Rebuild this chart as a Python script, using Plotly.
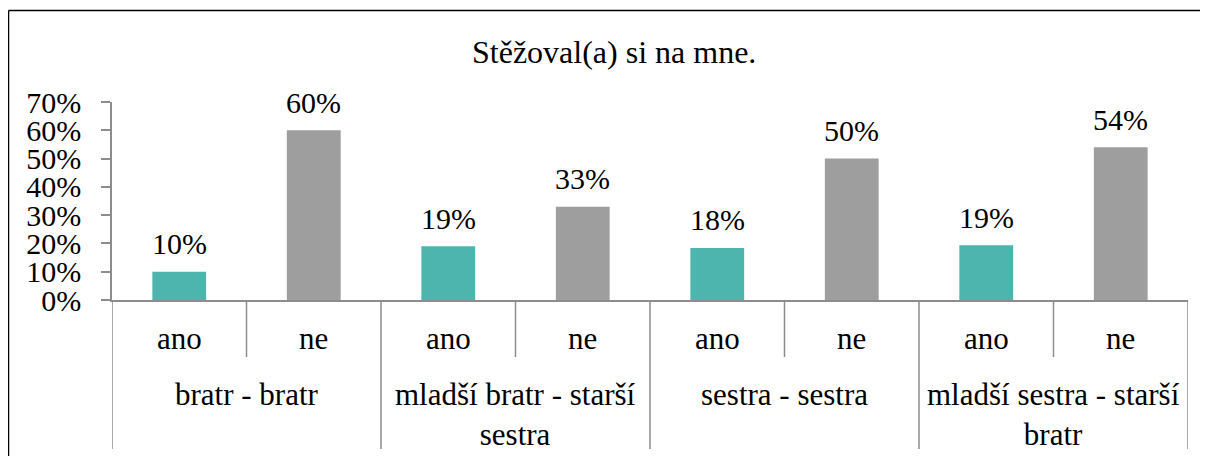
import plotly.graph_objects as go

title = "Stěžoval(a) si na mne."
groups = ["bratr - bratr", "mladší bratr - starší<br>sestra", "sestra - sestra", "mladší sestra - starší<br>bratr"]
answers = ["ano", "ne"]
values = [0.10, 0.60, 0.19, 0.33, 0.184, 0.50, 0.194, 0.54]
y_ticks = [0, 0.1, 0.2, 0.3, 0.4, 0.5, 0.6, 0.7]

TEAL = "#4DB5AD"
GRAY = "#9E9E9E"
AXIS = "#8C8C8C"
FONT = "'Liberation Serif', 'Times New Roman', 'DejaVu Serif', serif"
FS_NUM = 30
FS_CAT = 31
FS_TITLE = 32

OFF = 8  # page body margin offset
W, H = 1208 - OFF, 456 - OFF
L, R, T, B = 112 - OFF, 20, 102 - OFF, 156
pw, ph = W - L - R, H - T - B

def px_x(p):
    return (p - OFF - L) / pw

def px_y(p):
    return (H - B - (p - OFF)) / ph

n = len(groups) * len(answers)
xs = list(range(n))
colors = [TEAL if i % 2 == 0 else GRAY for i in xs]

fig = go.Figure()
fig.add_trace(go.Bar(x=xs, y=values, marker=dict(color=colors, line=dict(width=0)),
                     width=0.4, hoverinfo="skip", showlegend=False))

ann = []
for i, v in enumerate(values):
    ann.append(dict(x=i, y=v, xref="x", yref="y", text=f"{round(v*100):d}%", showarrow=False,
                    yanchor="middle", yshift=28, font=dict(family=FONT, size=FS_NUM, color="black")))
for i in xs:
    ann.append(dict(x=i, y=px_y(338), xref="x", yref="paper", text=answers[i % 2], showarrow=False,
                    yanchor="middle", font=dict(family=FONT, size=FS_CAT, color="black")))
for g, name in enumerate(groups):
    ann.append(dict(x=2 * g + 0.5, y=px_y(375), xref="x", yref="paper", text=name, showarrow=False,
                    yanchor="top", align="center", font=dict(family=FONT, size=FS_CAT, color="black")))
ann.append(dict(x=px_x(614), y=px_y(52), xref="paper", yref="paper", xanchor="center", text=title, showarrow=False,
                yanchor="middle", font=dict(family=FONT, size=FS_TITLE, color="black")))

shapes = []
for k in range(n + 1):
    xb = k - 0.5
    bottom = px_y(449) if k % 2 == 0 else px_y(357)
    shapes.append(dict(type="line", xref="x", yref="paper", x0=xb, x1=xb, y0=0, y1=bottom,
                       line=dict(color=AXIS, width=1.5)))
# chart border (left and top edges)
shapes.append(dict(type="line", xref="paper", yref="paper", x0=px_x(8.5), x1=px_x(8.5), y0=px_y(10.5), y1=px_y(470),
                   line=dict(color="black", width=1.5)))
shapes.append(dict(type="line", xref="paper", yref="paper", x0=px_x(8.5), x1=px_x(1230), y0=px_y(10.5), y1=px_y(10.5),
                   line=dict(color="black", width=1.5)))

fig.update_layout(
    width=W, height=H,
    margin=dict(l=L, r=R, t=T, b=B, pad=0),
    paper_bgcolor="white", plot_bgcolor="white",
    font=dict(family=FONT),
    annotations=ann, shapes=shapes,
    xaxis=dict(range=[-0.5, n - 0.5], showticklabels=False, showgrid=False, zeroline=False,
               showline=True, linecolor=AXIS, linewidth=1.5, ticks=""),
    yaxis=dict(range=[0, 0.7], tickvals=y_ticks, tickformat=".0%", showgrid=False, zeroline=False,
               showline=True, linecolor=AXIS, linewidth=1.5, ticks="outside", ticklen=9,
               tickcolor=AXIS, tickwidth=1.5, ticklabelstandoff=14,
               tickfont=dict(family=FONT, size=FS_NUM, color="black")),
)

fig.write_html("out.html")
